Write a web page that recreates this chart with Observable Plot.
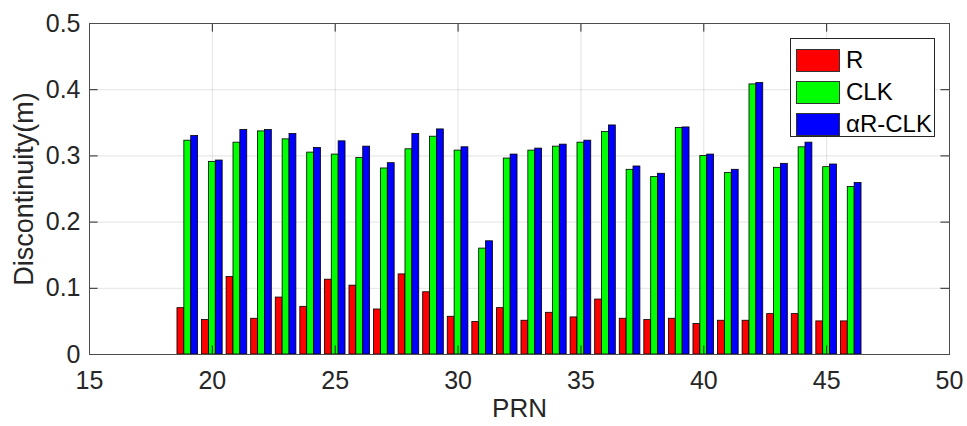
<!DOCTYPE html>
<html>
<head>
<meta charset="utf-8">
<script src="https://cdn.jsdelivr.net/npm/d3@7"></script>
<script src="https://cdn.jsdelivr.net/npm/@observablehq/plot@0.6"></script>
<style>
  html, body { margin: 0; padding: 0; background: #fff; }
  #wrap { position: relative; width: 967px; height: 426px; font-family: "Liberation Sans", Arial, sans-serif; }
  #legend {
    position: absolute; left: 790px; top: 38px; width: 145px; height: 99px;
    background: #fff; border: 1px solid #262626; box-sizing: border-box;
    padding: 5px 0 0 5px;
  }
  .item { display: flex; align-items: center; height: 32px; font-size: 24px; color: #000; }
  .sw { width: 44px; height: 23px; border: 1px solid #333; box-sizing: border-box; margin-right: 6px; }
</style>
</head>
<body>
<div id="wrap"><div id="legend"></div></div>
<script>
// Satellite PRN numbers
const prn = [19, 20, 21, 22, 23, 24, 25, 26, 27, 28, 29, 30, 31, 32,
             33, 34, 35, 36, 37, 38, 39, 40, 41, 42, 43, 44, 45, 46];

// Discontinuity (m) per series
const rValues = [0.070, 0.052, 0.117, 0.054, 0.086, 0.072, 0.113, 0.104, 0.068, 0.121,
                 0.094, 0.057, 0.049, 0.070, 0.051, 0.063, 0.056, 0.083, 0.054, 0.052,
                 0.054, 0.046, 0.051, 0.051, 0.061, 0.061, 0.050, 0.050];
const clkValues = [0.323, 0.291, 0.320, 0.337, 0.325, 0.305, 0.302, 0.297, 0.281, 0.310,
                   0.329, 0.308, 0.160, 0.296, 0.308, 0.314, 0.320, 0.336, 0.279, 0.268,
                   0.342, 0.300, 0.274, 0.408, 0.282, 0.313, 0.283, 0.253];
const arClkValues = [0.330, 0.293, 0.339, 0.339, 0.333, 0.312, 0.322, 0.314, 0.289, 0.333,
                     0.340, 0.313, 0.171, 0.302, 0.311, 0.317, 0.323, 0.346, 0.284, 0.273,
                     0.343, 0.302, 0.279, 0.410, 0.288, 0.320, 0.287, 0.259];

const seriesNames = ["R", "CLK", "αR-CLK"];
const seriesColors = ["#ff0000", "#00ff00", "#0000ff"];
const seriesValues = [rValues, clkValues, arClkValues];

const xTicks = [15, 20, 25, 30, 35, 40, 45, 50];
const yTicks = [0, 0.1, 0.2, 0.3, 0.4, 0.5];

// Long-form table: one row per bar
const rows = [];
seriesNames.forEach((name, s) => {
  prn.forEach((p, i) => rows.push({prn: p, series: name, index: s, value: seriesValues[s][i]}));
});

const barW = 0.28;           // width of one bar in PRN units
const groupW = barW * seriesNames.length;
const xMin = 15, xMax = 50, yMin = 0, yMax = 0.5;
const tickX = 0.35, tickY = 0.013; // inward tick lengths in data units

const chart = Plot.plot({
  width: 967,
  height: 426,
  marginLeft: 89,
  marginRight: 18,
  marginTop: 23,
  marginBottom: 72,
  style: {fontFamily: "'Liberation Sans', Arial, sans-serif", color: "#262626", background: "#fff"},
  x: {domain: [xMin, xMax], ticks: xTicks, label: null},
  y: {domain: [yMin, yMax], ticks: yTicks, label: null},
  color: {domain: seriesNames, range: seriesColors},
  marks: [
    Plot.gridX(xTicks, {stroke: "#262626", strokeOpacity: 0.13}),
    Plot.gridY(yTicks, {stroke: "#262626", strokeOpacity: 0.13}),
    Plot.rect(rows, {
      x1: d => d.prn - groupW / 2 + d.index * barW,
      x2: d => d.prn - groupW / 2 + (d.index + 1) * barW,
      y1: 0,
      y2: "value",
      fill: "series",
      stroke: "#000",
      strokeWidth: 0.8
    }),
    // inward ticks on all four sides
    Plot.ruleX(xTicks, {x: d => d, y1: yMin, y2: yMin + tickY, stroke: "#262626"}),
    Plot.ruleX(xTicks, {x: d => d, y1: yMax, y2: yMax - tickY, stroke: "#262626"}),
    Plot.ruleY(yTicks, {y: d => d, x1: xMin, x2: xMin + tickX, stroke: "#262626"}),
    Plot.ruleY(yTicks, {y: d => d, x1: xMax, x2: xMax - tickX, stroke: "#262626"}),
    Plot.frame({stroke: "#4d4d4d", strokeWidth: 1}),
    Plot.axisX(xTicks, {tickSize: 0, tickPadding: 17, fontSize: 25, fill: "#262626", label: null}),
    Plot.axisY(yTicks, {tickSize: 0, tickPadding: 9, fontSize: 25, fill: "#262626", label: null,
                        tickFormat: d => String(d)}),
    Plot.text(["PRN"], {frameAnchor: "bottom", dy: 54, text: d => d, fontSize: 26,
                        fill: "#262626", lineAnchor: "middle", textAnchor: "middle"}),
    Plot.text(["Discontinuity(m)"], {frameAnchor: "left", dx: -65, rotate: -90, text: d => d, fontSize: 27,
                        fill: "#262626", lineAnchor: "middle", textAnchor: "middle"})
  ]
});

const wrap = document.getElementById("wrap");
wrap.insertBefore(chart, wrap.firstChild);

// Legend
const legend = document.getElementById("legend");
seriesNames.forEach((name, s) => {
  const item = document.createElement("div");
  item.className = "item";
  const sw = document.createElement("div");
  sw.className = "sw";
  sw.style.background = seriesColors[s];
  const label = document.createElement("span");
  label.textContent = name;
  item.appendChild(sw);
  item.appendChild(label);
  legend.appendChild(item);
});
</script>
</body>
</html>
